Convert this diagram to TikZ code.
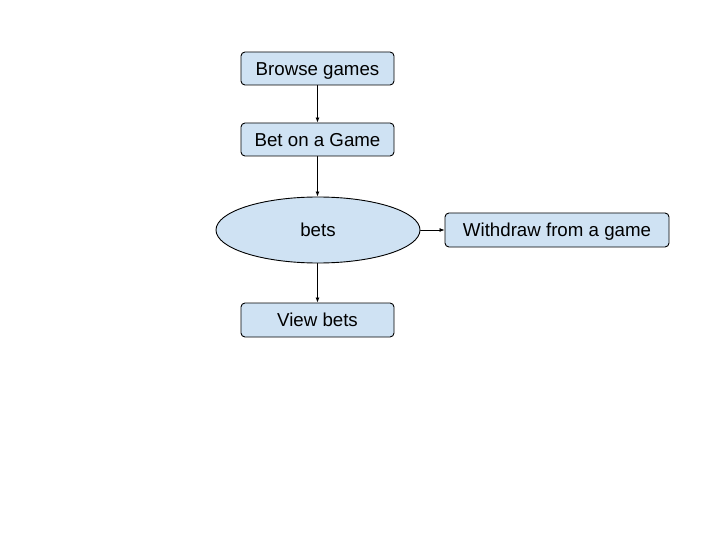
\documentclass[tikz,border=0pt]{standalone}
\usepackage{fontspec}
\setmainfont{Liberation Sans}
\usetikzlibrary{shapes.geometric,arrows.meta}

\definecolor{boxblue}{RGB}{207,226,243}

\begin{document}
\begin{tikzpicture}[x=1pt,y=-1pt,line cap=round,line join=round,
    stepbox/.style={draw=black,fill=boxblue,rounded corners=4pt,line width=0.9pt,
        minimum width=153pt,minimum height=33pt,inner sep=0pt,
        text height=13.3pt,text depth=0pt,
        font=\fontsize{18.7}{22}\selectfont},
    store/.style={draw=black,fill=boxblue,ellipse,line width=0.9pt,
        minimum width=204pt,minimum height=66pt,inner sep=0pt,
        text height=13.3pt,text depth=0pt,
        font=\fontsize{18.7}{22}\selectfont},
    flow/.style={-{Latex[length=5pt,width=4pt]},line width=0.8pt}]
        \useasboundingbox (0,0) rectangle (720,540);

        % Pasos
        \node[stepbox] (browse) at (317.5,68.5) {Browse games};
        \node[stepbox] (bet) at (317.5,139.5) {Bet on a Game};
        \node[store] (bets) at (318,230) {bets};
        \node[stepbox,minimum width=224pt,minimum height=34pt]
            (withdraw) at (557,230) {Withdraw from a game};
        \node[stepbox,minimum height=34pt] (view) at (317.5,320) {View bets};

        % Flechas
        \draw[flow] (browse) -- (bet);
        \draw[flow] (bet) -- (bet.south |- bets.north);
        \draw[flow] (bets) -- (withdraw);
        \draw[flow] (bets.south -| view.north) -- (view);
    \end{tikzpicture}
\end{document}
